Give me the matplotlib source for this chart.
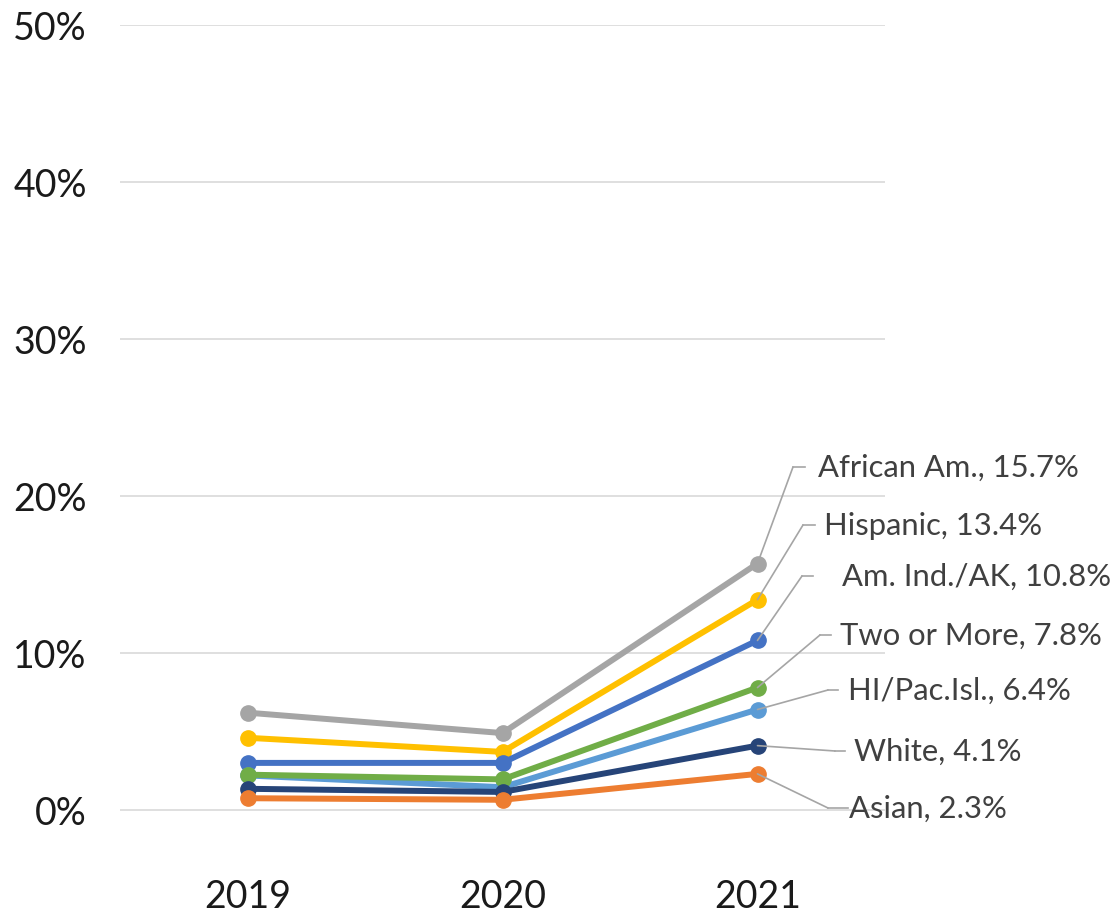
import numpy as np
import matplotlib
matplotlib.use("Agg")
import matplotlib.pyplot as plt
from matplotlib.lines import Line2D

plt.rcParams['font.family'] = ['Lato', 'DejaVu Sans']

years = ['2019', '2020', '2021']
groups = ['African Am.', 'Hispanic', 'Am. Ind./AK', 'HI/Pac.Isl.', 'Two or More', 'White', 'Asian']
colors = ['#A5A5A5', '#FFC000', '#4472C4', '#5B9BD5', '#70AD47', '#264478', '#ED7D31']
values = [
    [6.2, 4.9, 15.7],
    [4.6, 3.7, 13.4],
    [3.0, 3.0, 10.8],
    [2.2, 1.45, 6.4],
    [2.25, 1.95, 7.8],
    [1.35, 1.15, 4.1],
    [0.75, 0.65, 2.3],
]
# label placement (figure pixels): elbow x, elbow end x, y, text x
label_pos = {
    'African Am.':  (793, 805, 467, 818),
    'Hispanic':     (803, 815, 525, 824),
    'Am. Ind./AK':  (802, 813, 576, 842),
    'Two or More':  (820, 831, 635, 840),
    'HI/Pac.Isl.':  (828, 838, 690, 848),
    'White':        (835, 845, 751, 854),
    'Asian':        (828, 848, 808, 849),
}

W, H = 1112, 921
fig = plt.figure(figsize=(W / 100, H / 100), dpi=100)
ax = fig.add_axes([120 / W, 1 - 888.5 / H, 765 / W, (888.5 - 25) / H])

x = np.arange(len(years))
for g, c, v in zip(groups, colors, values):
    ax.plot(x, v, color=c, lw=4.3, marker='o', ms=11, solid_capstyle='round', zorder=3)

ax.set_xlim(-0.5, 2.5)
ax.set_ylim(-5, 50)
ax.set_yticks(np.arange(0, 51, 10))
ax.set_yticklabels(['{}%'.format(t) for t in range(0, 51, 10)])
ax.set_xticks(x)
ax.set_xticklabels(years)
ax.grid(axis='y', color='#D9D9D9', lw=1.2)
ax.tick_params(axis='y', length=0, pad=24, labelsize=27, labelcolor='#1a1a1a')
ax.tick_params(axis='x', length=0, pad=-7, labelsize=27, labelcolor='#1a1a1a')
for s in ax.spines.values():
    s.set_visible(False)

def fp(px, py):
    return (px / W, 1 - py / H)

for g, v in zip(groups, values):
    ex, ex2, ey, tx = label_pos[g]
    ax.annotate('', xy=(2, v[2]), xycoords='data', xytext=fp(ex, ey),
                textcoords='figure fraction',
                arrowprops=dict(arrowstyle='-', color='#A5A5A5', lw=1.2,
                                shrinkA=0, shrinkB=0))
    fig.add_artist(Line2D([ex / W, ex2 / W], [1 - ey / H, 1 - ey / H],
                          transform=fig.transFigure, color='#A5A5A5', lw=1.2))
    fig.text(tx / W, 1 - (ey + 1) / H, '{}, {}%'.format(g, v[2]),
             fontsize=22.3, color='#404040', va='center', ha='left')

fig.savefig('out.png', dpi=100)
